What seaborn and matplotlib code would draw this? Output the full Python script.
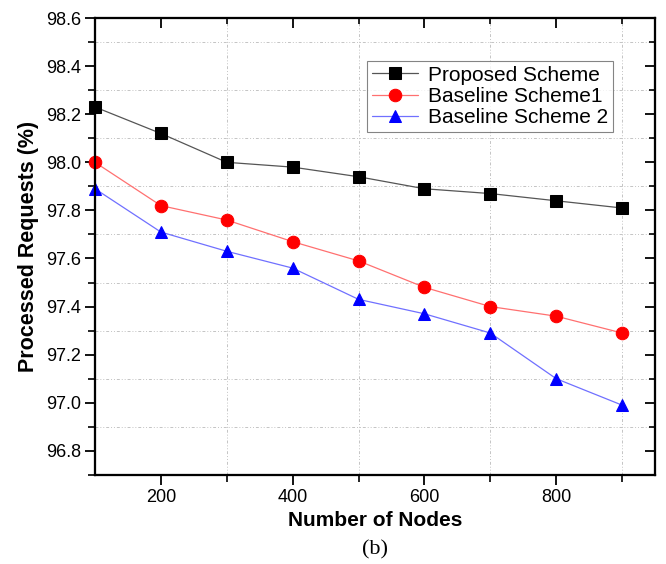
import matplotlib
matplotlib.use("Agg")
import matplotlib.pyplot as plt
from matplotlib.ticker import FixedLocator, FormatStrFormatter
import seaborn as sns
import pandas as pd

nodes = [100, 200, 300, 400, 500, 600, 700, 800, 900]
proposed = [98.23, 98.12, 98.00, 97.98, 97.94, 97.89, 97.87, 97.84, 97.81]
baseline1 = [98.00, 97.82, 97.76, 97.67, 97.59, 97.48, 97.40, 97.36, 97.29]
baseline2 = [97.89, 97.71, 97.63, 97.56, 97.43, 97.37, 97.29, 97.10, 96.99]
labels = ["Proposed Scheme", "Baseline Scheme1", "Baseline Scheme 2"]
x_major = [200, 400, 600, 800]
x_minor = [300, 500, 700, 900]
y_major = [96.8, 97.0, 97.2, 97.4, 97.6, 97.8, 98.0, 98.2, 98.4, 98.6]
y_minor = [96.7, 96.9, 97.1, 97.3, 97.5, 97.7, 97.9, 98.1, 98.3, 98.5]

sns.set_theme(style="white")
plt.rcParams['font.family'] = ['Liberation Sans', 'DejaVu Sans']
plt.rcParams['text.color'] = 'black'
plt.rcParams['axes.labelcolor'] = 'black'

fig = plt.figure(figsize=(6.66, 5.64), dpi=100)
ax = fig.add_axes([0.1426, 0.158, 0.841, 0.810])

series = [proposed, baseline1, baseline2]
line_colors = ["#555555", "#ff7070", "#7070ff"]
mark_colors = ["black", "red", "blue"]
markers = ["s", "o", "^"]
sizes = [8, 9, 9]
for vals, lab, lc, mc, mk, ms in zip(series, labels, line_colors, mark_colors, markers, sizes):
    df = pd.DataFrame({"Nodes": nodes, "Value": vals})
    sns.lineplot(data=df, x="Nodes", y="Value", ax=ax, color=lc, lw=0.9,
                 marker=mk, markersize=ms, markerfacecolor=mc, markeredgecolor=mc,
                 label=lab, clip_on=False, zorder=3)

ax.set_xlim(100, 950)
ax.set_ylim(96.7, 98.6)
ax.xaxis.set_major_locator(FixedLocator(x_major))
ax.xaxis.set_minor_locator(FixedLocator(x_minor))
ax.yaxis.set_major_locator(FixedLocator(y_major))
ax.yaxis.set_minor_locator(FixedLocator(y_minor))
ax.yaxis.set_major_formatter(FormatStrFormatter('%.1f'))

ax.xaxis.grid(False, which='major')
ax.yaxis.grid(False, which='major')
ax.xaxis.grid(True, which='minor', color='#c4c4c4', linestyle=(0, (3, 2, 1, 2, 1, 2)), linewidth=0.7)
ax.yaxis.grid(True, which='minor', color='#c4c4c4', linestyle=(0, (3, 2, 1, 2, 1, 2)), linewidth=0.7)
for s in ax.spines.values():
    s.set_visible(True)
    s.set_color('black')
    s.set_linewidth(1.5)

ax.tick_params(axis='both', which='major', direction='out', length=7, width=1.3,
               labelsize=13, colors='black', pad=3)
ax.tick_params(axis='both', which='minor', direction='out', length=5, width=1.2, colors='black')
ax.tick_params(which='both', top=False, right=False, bottom=True, left=True)

ax2 = ax.twinx()
ax2.set_ylim(ax.get_ylim())
ax2.yaxis.set_major_locator(FixedLocator(y_major))
ax2.yaxis.set_minor_locator(FixedLocator(y_minor))
ax2.tick_params(axis='y', which='major', direction='in', length=7, width=1.3, labelright=False, colors='black')
ax2.tick_params(axis='y', which='minor', direction='in', length=4, width=1.2, colors='black')
ax3 = ax.twiny()
ax3.set_xlim(ax.get_xlim())
ax3.xaxis.set_major_locator(FixedLocator(x_major))
ax3.xaxis.set_minor_locator(FixedLocator(x_minor))
ax3.tick_params(axis='x', which='major', direction='in', length=7, width=1.3, labeltop=False, colors='black')
ax3.tick_params(axis='x', which='minor', direction='in', length=4, width=1.2, colors='black')
for a in (ax2, ax3):
    a.xaxis.grid(False, which='both')
    a.yaxis.grid(False, which='both')
    for s in a.spines.values():
        s.set_linewidth(1.5)
        s.set_color('black')

ax.set_xlabel("Number of Nodes", fontsize=15, fontweight='bold', labelpad=4, color='black')
ax.set_ylabel("Processed Requests (%)", fontsize=15.5, fontweight='bold', labelpad=5, color='black')

leg = ax.legend(loc='upper left', bbox_to_anchor=(0.485, 0.907), fontsize=15,
                frameon=True, fancybox=False, edgecolor='#666666',
                handlelength=2.2, handletextpad=0.5, borderpad=0.25, labelspacing=0.1,
                borderaxespad=0, labelcolor='black')
leg.get_frame().set_linewidth(0.8)

fig.text(0.563, 0.016, "(b)", fontsize=16, family='Liberation Serif', ha='center', color='black')

fig.savefig("out.png", dpi=100)
